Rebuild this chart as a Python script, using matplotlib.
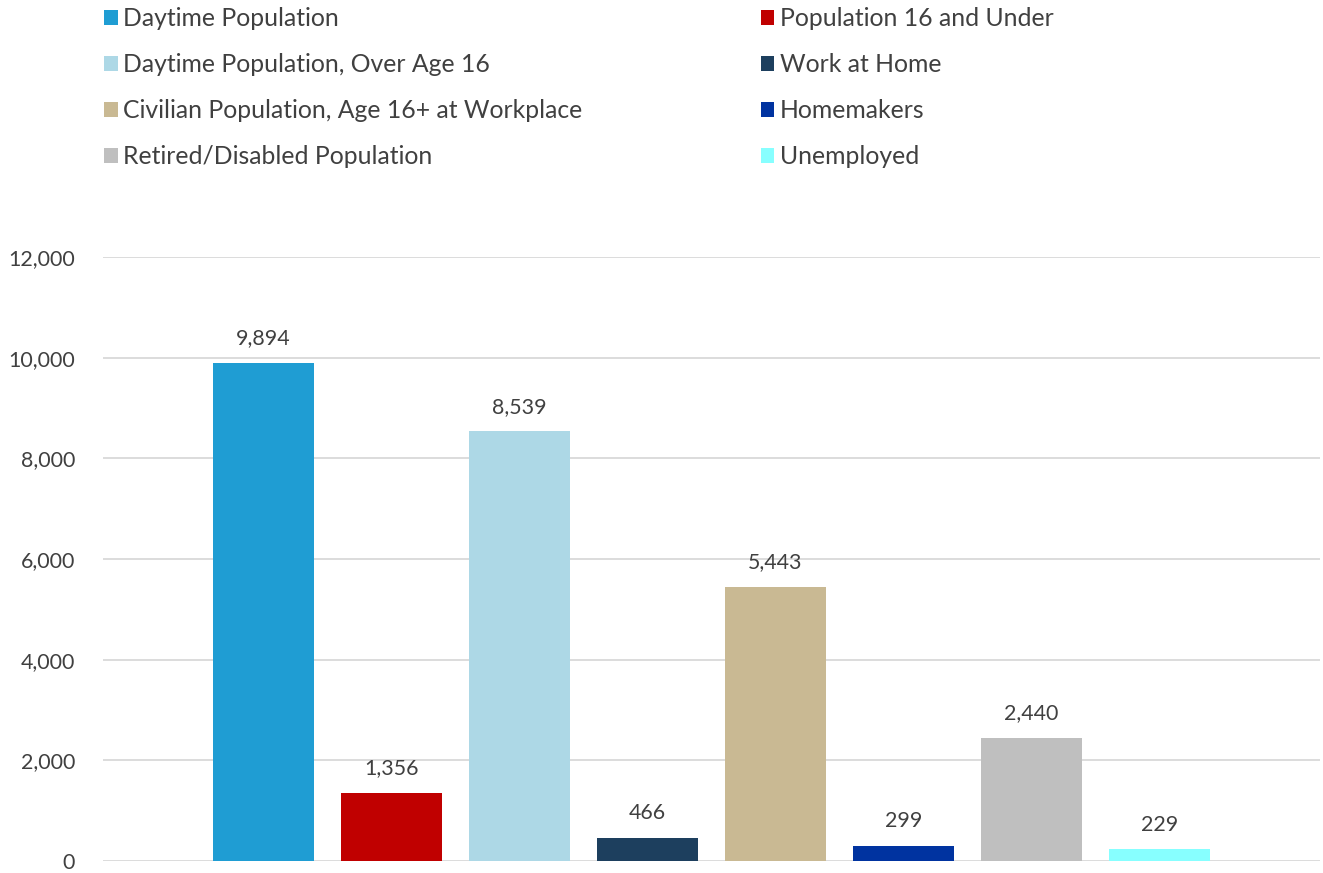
import matplotlib
matplotlib.use('Agg')
import matplotlib.pyplot as plt
from matplotlib.patches import Patch

# Series (one bar each), in chart order
series = ['Daytime Population', 'Population 16 and Under',
          'Daytime Population, Over Age 16', 'Work at Home',
          'Civilian Population, Age 16+ at Workplace', 'Homemakers',
          'Retired/Disabled Population', 'Unemployed']
values = [9894, 1356, 8539, 466, 5443, 299, 2440, 229]
colors = ['#1f9dd3', '#c00000', '#add8e6', '#1d3f5e',
          '#c9b993', '#0033a0', '#bfbfbf', '#87ffff']
yticks = [0, 2000, 4000, 6000, 8000, 10000, 12000]

plt.rcParams['font.family'] = ['Lato', 'DejaVu Sans']
text_color = '#404040'

fig = plt.figure(figsize=(13.23, 8.73), dpi=100)
ax = fig.add_axes([103 / 1323, 12 / 873, 1217 / 1323, 604 / 873])

x = list(range(len(values)))
bars = ax.bar(x, values, width=0.79, color=colors, zorder=3)
for rect, v in zip(bars, values):
    ax.text(rect.get_x() + rect.get_width() / 2, v + 290, f'{v:,}',
            ha='center', va='bottom', fontsize=15.4, color=text_color)

ax.set_xlim(-1.254, 7 + 1.254)
ax.set_ylim(0, 12000)
ax.set_yticks(yticks)
ax.set_yticklabels([f'{t:,}' for t in yticks], fontsize=15.4, color=text_color)
ax.set_xticks([])
ax.tick_params(axis='y', length=0, pad=20)
ax.yaxis.grid(True, color='#d9d9d9', linewidth=1.3, zorder=0)
for s in ax.spines.values():
    s.set_visible(False)

# legend: two columns, left column holds bars 0,2,4,6
order = [0, 2, 4, 6, 1, 3, 5, 7]
handles = [Patch(facecolor=colors[i], label=series[i]) for i in order]
fig.legend(handles=handles, loc='upper left', bbox_to_anchor=(82 / 1323, 1 + 15 / 873),
           ncol=2, frameon=False, fontsize=17.8, handlelength=0.55, handleheight=0.55,
           handletextpad=0.22, labelspacing=0.93, columnspacing=7.2,
           labelcolor=text_color)

fig.savefig('out.png', dpi=100)
